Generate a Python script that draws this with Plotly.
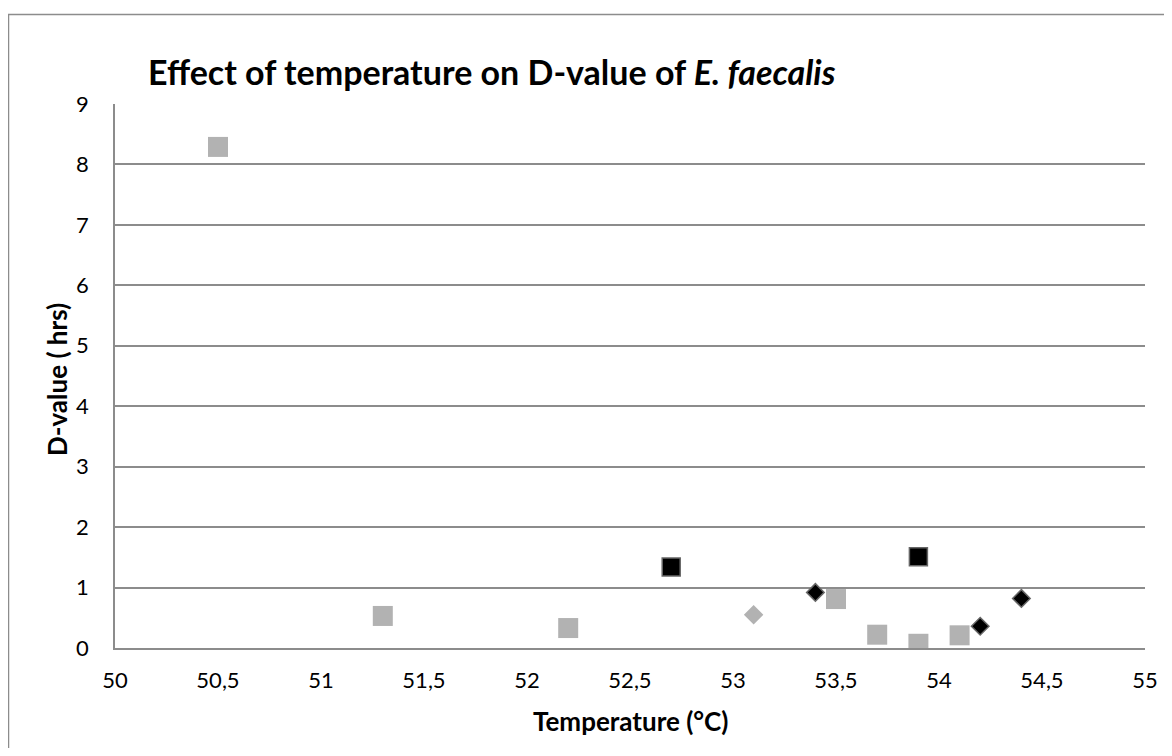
import plotly.graph_objects as go

# Data
gray_sq_x = [50.5, 51.3, 52.2, 53.5, 53.7, 53.9, 54.1]
gray_sq_y = [8.29, 0.53, 0.33, 0.81, 0.22, 0.07, 0.21]
black_sq_x = [52.7, 53.9]
black_sq_y = [1.34, 1.51]
black_di_x = [53.4, 54.2, 54.4]
black_di_y = [0.92, 0.36, 0.82]
gray_di_x = [53.1]
gray_di_y = [0.55]

x_ticks = [50, 50.5, 51, 51.5, 52, 52.5, 53, 53.5, 54, 54.5, 55]
y_ticks = list(range(0, 10))

# page has an 8px body margin; figure sized to fit the window
OFF = 8
W, H = 1172 - 2 * OFF, 756 - 2 * OFF
# plot area in screen pixels
SL, SR, ST, SB = 115, 1145, 104, 648
L, R, T, B = SL - OFF, SR - OFF, ST - OFF, SB - OFF
pw, ph = R - L, B - T

def px(sx):
    return (sx - SL) / pw

def py(sy):
    return (SB - sy) / ph

FONT = "Lato"
GRAY = "#B2B2B2"
GRID = "#8C8C8C"

fig = go.Figure()
fig.add_trace(go.Scatter(x=gray_sq_x, y=gray_sq_y, mode="markers",
                         marker=dict(symbol="square", size=20, color=GRAY, line=dict(width=0))))
fig.add_trace(go.Scatter(x=black_sq_x, y=black_sq_y, mode="markers",
                         marker=dict(symbol="square", size=18, color="#000000",
                                     line=dict(width=1.5, color="#666666"))))
fig.add_trace(go.Scatter(x=gray_di_x, y=gray_di_y, mode="markers",
                         marker=dict(symbol="diamond", size=15, color=GRAY, line=dict(width=0))))
fig.add_trace(go.Scatter(x=black_di_x, y=black_di_y, mode="markers",
                         marker=dict(symbol="diamond", size=13.5, color="#000000",
                                     line=dict(width=1.5, color="#666666"))))

fig.update_layout(
    width=W, height=H,
    margin=dict(l=L, r=W - R, t=T, b=H - B, autoexpand=False),
    paper_bgcolor="white", plot_bgcolor="white",
    showlegend=False,
    separators=", ",
    font=dict(family=FONT, size=22, color="#000000"),
    xaxis=dict(range=[50, 55], tickvals=x_ticks, ticks="", showgrid=False,
               showline=True, linecolor=GRID, linewidth=1.5, zeroline=False,
               ticklabelstandoff=12, tickfont=dict(size=22)),
    yaxis=dict(range=[0, 9], tickvals=y_ticks, ticks="", showgrid=True,
               gridcolor=GRID, gridwidth=1.5, showline=True, linecolor=GRID,
               linewidth=1.5, zeroline=False, ticklabelstandoff=20,
               tickfont=dict(size=22)),
    shapes=[dict(type="rect", xref="paper", yref="paper",
                 x0=px(8.5), x1=px(1190), y0=py(790), y1=py(14.5),
                 line=dict(color=GRID, width=1.5), fillcolor="rgba(0,0,0,0)", layer="above")],
    annotations=[
        dict(text="<b>Effect of temperature on D-value of <i>E. faecalis</i></b>",
             xref="paper", yref="paper", x=px(146), y=py(72), xanchor="left", yanchor="middle",
             showarrow=False, font=dict(family=FONT, size=34, color="#000000")),
        dict(text="<b>Temperature (°C)</b>", xref="paper", yref="paper",
             x=px(630), y=py(721), xanchor="center", yanchor="middle",
             showarrow=False, font=dict(family=FONT, size=26, color="#000000")),
        dict(text="<b>D-value ( hrs)</b>", xref="paper", yref="paper",
             x=px(57), y=py(380), xanchor="center", yanchor="middle", textangle=-90,
             showarrow=False, font=dict(family=FONT, size=26, color="#000000")),
    ],
)

fig.write_html("out.html")
